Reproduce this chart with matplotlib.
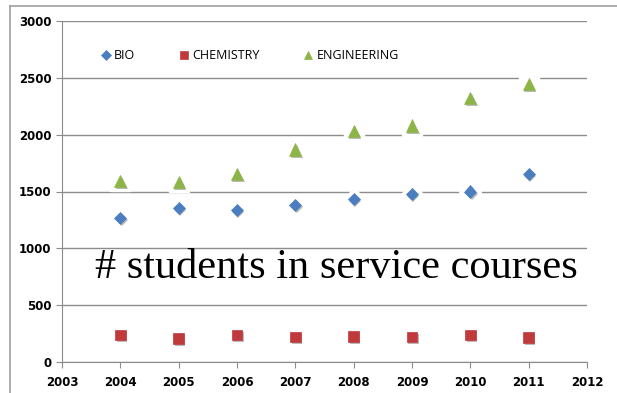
import matplotlib
matplotlib.use("Agg")
import matplotlib.pyplot as plt
from matplotlib.lines import Line2D
import matplotlib.patheffects as pe

years = [2004, 2005, 2006, 2007, 2008, 2009, 2010, 2011]
bio = [1270, 1355, 1335, 1380, 1435, 1480, 1500, 1655]
chemistry = [238, 208, 238, 222, 225, 222, 238, 215]
engineering = [1590, 1585, 1655, 1870, 2030, 2080, 2320, 2445]
series_names = ["BIO", "CHEMISTRY", "ENGINEERING"]
x_ticks = list(range(2003, 2013))
y_ticks = [0, 500, 1000, 1500, 2000, 2500, 3000]

fig = plt.figure(figsize=(6.17, 3.93), dpi=100)
W, H = 617, 393
ax = fig.add_axes([62 / W, 1 - 362 / H, (587 - 62) / W, (362 - 21) / H])

# chart-area frame
fig.add_artist(Line2D([10 / W, 10 / W], [0, 1 - 6 / H], color="#a0a0a0", lw=1.2))
fig.add_artist(Line2D([10 / W, 1], [1 - 6 / H, 1 - 6 / H], color="#a0a0a0", lw=1.2))

styles = [
    dict(marker="D", color="#4a7ebf", ms=6.2, halo="D", hs=11),
    dict(marker="s", color="#c0393b", ms=7.5, halo="s", hs=12),
    dict(marker="^", color="#8db447", ms=8.8, halo="s", hs=14),
]
data = [bio, chemistry, engineering]
shadow = [pe.SimplePatchShadow(offset=(1.0, -1.5), shadow_rgbFace="#666666", alpha=0.45), pe.Normal()]

for vals, st, name in zip(data, styles, series_names):
    # white halo interrupting the gridlines
    ax.plot(years, vals, linestyle="none", marker=st["halo"], ms=st["hs"],
            color="white", mec="white", zorder=3)
    ax.plot(years, vals, linestyle="none", marker=st["marker"], ms=st["ms"],
            color=st["color"], mec=st["color"], mew=0.5, zorder=4, label=name,
            path_effects=shadow)

ax.set_xlim(2003, 2012)
ax.set_ylim(0, 3000)
ax.set_xticks(x_ticks)
ax.set_yticks(y_ticks)
ax.yaxis.grid(True, color="#8c8c8c", lw=1)
ax.set_axisbelow(True)
for s in ["top", "right"]:
    ax.spines[s].set_visible(False)
for s in ["left", "bottom"]:
    ax.spines[s].set_color("#8c8c8c")
ax.tick_params(axis="both", colors="#8c8c8c", labelcolor="black", labelsize=8.5, length=4)
for lab in ax.get_xticklabels() + ax.get_yticklabels():
    lab.set_fontweight("bold")
ax.tick_params(axis="x", pad=6)

leg = ax.legend(loc="upper left", bbox_to_anchor=(0.048, 0.95), ncol=3, frameon=False,
                handletextpad=0.05, columnspacing=3.3, markerscale=0.8, handlelength=1.2,
                prop={"family": "Open Sans", "size": 9})
for h, s in zip(leg.legend_handles, [5.0, 5.8, 6.2]):
    h.set_markersize(s)
    h.set_path_effects([])

ax.text(0.522, 0.275, "# students in service courses", transform=ax.transAxes,
        ha="center", va="center", fontsize=30.5, family="Liberation Serif", color="black")

fig.savefig("out.png", dpi=100, facecolor="white")
